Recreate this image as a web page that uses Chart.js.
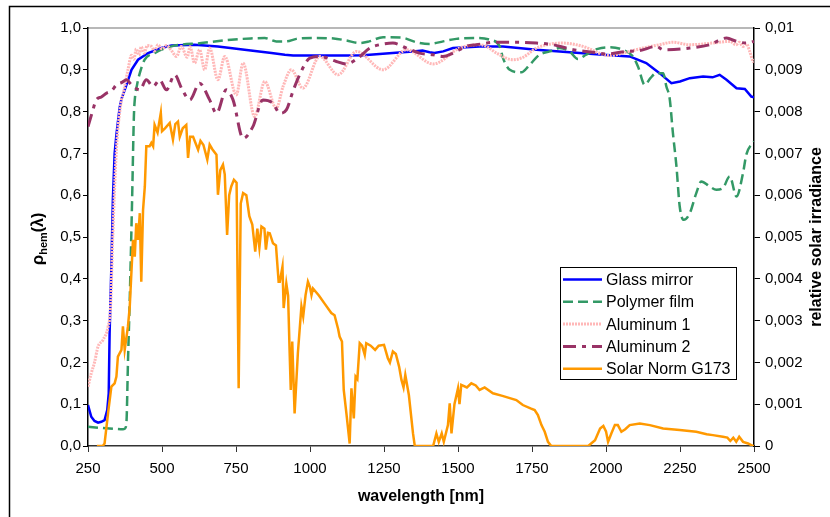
<!DOCTYPE html>
<html>
<head>
<meta charset="utf-8">
<script src="https://cdn.jsdelivr.net/npm/chart.js@4"></script>
<style>
  html, body { margin: 0; padding: 0; background: #fff; }
  canvas { display: block; }
</style>
</head>
<body>
<canvas id="chart" width="830" height="517"></canvas>
<script>
// --- Data (wavelength in nm) ---
const xTicks = [250, 500, 750, 1000, 1250, 1500, 1750, 2000, 2250, 2500];
const yTicks = [0, 0.1, 0.2, 0.3, 0.4, 0.5, 0.6, 0.7, 0.8, 0.9, 1.0];
const y2Ticks = [0, 0.001, 0.002, 0.003, 0.004, 0.005, 0.006, 0.007, 0.008, 0.009, 0.01];
const seriesNames = ['Glass mirror', 'Polymer film', 'Aluminum 1', 'Aluminum 2', 'Solar Norm G173'];

const glassNm = [250, 261, 272, 284, 295, 306, 315, 320, 323, 329, 334, 340, 346, 351, 357, 363, 380, 397, 419, 453, 498, 532, 610, 689, 779, 870, 915, 943, 1123, 1180, 1235, 1290, 1348, 1380, 1404, 1420, 1450, 1483, 1573, 1652, 1765, 1877, 1990, 2080, 2136, 2181, 2221, 2250, 2283, 2328, 2360, 2384, 2407, 2441, 2469, 2491, 2500];
const glassR = [0.098, 0.070, 0.060, 0.056, 0.058, 0.062, 0.086, 0.126, 0.270, 0.430, 0.589, 0.700, 0.745, 0.775, 0.810, 0.830, 0.864, 0.900, 0.924, 0.940, 0.952, 0.958, 0.960, 0.956, 0.948, 0.940, 0.936, 0.934, 0.934, 0.935, 0.938, 0.941, 0.944, 0.946, 0.942, 0.940, 0.944, 0.952, 0.956, 0.956, 0.948, 0.942, 0.936, 0.932, 0.916, 0.892, 0.868, 0.872, 0.880, 0.884, 0.882, 0.888, 0.876, 0.856, 0.854, 0.836, 0.834];

const polymerNm = [250, 300, 340, 368, 375, 380, 385, 391, 399, 405, 408, 416, 425, 441, 475, 532, 633, 734, 800, 847, 886, 920, 954, 1010, 1080, 1123, 1168, 1200, 1247, 1310, 1359, 1404, 1450, 1494, 1562, 1607, 1641, 1652, 1675, 1714, 1742, 1775, 1810, 1843, 1877, 1905, 1933, 1972, 2012, 2057, 2091, 2108, 2131, 2150, 2170, 2193, 2204, 2215, 2226, 2238, 2249, 2263, 2283, 2305, 2322, 2350, 2373, 2395, 2418, 2441, 2463, 2474, 2500];
const polymerR = [0.046, 0.043, 0.041, 0.040, 0.042, 0.058, 0.200, 0.350, 0.589, 0.788, 0.828, 0.865, 0.892, 0.924, 0.940, 0.956, 0.964, 0.972, 0.975, 0.976, 0.968, 0.968, 0.974, 0.976, 0.975, 0.970, 0.964, 0.968, 0.978, 0.977, 0.966, 0.962, 0.968, 0.974, 0.976, 0.972, 0.956, 0.928, 0.900, 0.894, 0.912, 0.936, 0.944, 0.952, 0.944, 0.926, 0.936, 0.950, 0.954, 0.948, 0.932, 0.908, 0.864, 0.880, 0.892, 0.892, 0.860, 0.832, 0.749, 0.669, 0.573, 0.541, 0.557, 0.605, 0.633, 0.621, 0.613, 0.617, 0.645, 0.597, 0.653, 0.697, 0.729];

const alu1Nm = [250, 261, 272, 284, 301, 318, 326, 334, 346, 363, 368, 385, 397, 405, 413, 422, 430, 440, 450, 464, 475, 486, 500, 515, 530, 549, 565, 585, 595, 610, 627, 644, 661, 689, 712, 751, 774, 813, 847, 886, 909, 937, 976, 1033, 1095, 1157, 1247, 1326, 1416, 1506, 1573, 1596, 1630, 1686, 1720, 1765, 1855, 1922, 2012, 2057, 2125, 2181, 2226, 2283, 2361, 2418, 2440, 2450, 2463, 2475, 2485, 2497, 2500];
const alu1R = [0.142, 0.174, 0.200, 0.238, 0.254, 0.286, 0.330, 0.509, 0.709, 0.828, 0.840, 0.900, 0.935, 0.925, 0.950, 0.935, 0.955, 0.940, 0.958, 0.956, 0.945, 0.960, 0.950, 0.958, 0.948, 0.932, 0.956, 0.930, 0.955, 0.916, 0.948, 0.900, 0.952, 0.876, 0.932, 0.840, 0.916, 0.788, 0.872, 0.808, 0.860, 0.900, 0.856, 0.932, 0.888, 0.944, 0.900, 0.948, 0.914, 0.952, 0.960, 0.956, 0.940, 0.924, 0.930, 0.952, 0.964, 0.956, 0.934, 0.940, 0.952, 0.960, 0.966, 0.960, 0.964, 0.968, 0.960, 0.966, 0.956, 0.962, 0.945, 0.920, 0.918];

const alu2Nm = [250, 265, 278, 295, 312, 330, 346, 365, 380, 397, 425, 447, 470, 492, 515, 543, 566, 594, 627, 661, 684, 717, 740, 774, 807, 841, 875, 898, 920, 943, 965, 999, 1033, 1089, 1123, 1162, 1202, 1235, 1280, 1326, 1370, 1416, 1449, 1483, 1528, 1562, 1630, 1697, 1765, 1821, 1889, 1956, 2001, 2069, 2114, 2170, 2193, 2283, 2350, 2407, 2441, 2474, 2500];
const alu2R = [0.764, 0.800, 0.828, 0.835, 0.844, 0.850, 0.864, 0.870, 0.876, 0.864, 0.852, 0.876, 0.860, 0.876, 0.852, 0.888, 0.856, 0.828, 0.868, 0.828, 0.796, 0.852, 0.828, 0.736, 0.764, 0.828, 0.820, 0.796, 0.804, 0.850, 0.888, 0.928, 0.932, 0.920, 0.914, 0.928, 0.952, 0.960, 0.964, 0.952, 0.940, 0.936, 0.932, 0.940, 0.956, 0.960, 0.966, 0.966, 0.964, 0.960, 0.948, 0.942, 0.938, 0.944, 0.946, 0.956, 0.948, 0.952, 0.960, 0.976, 0.968, 0.964, 0.968];

const solarNm = [280, 300, 306, 318, 329, 340, 346, 351, 363, 368, 374, 385, 391, 402, 408, 413, 419, 425, 430, 436, 442, 447, 458, 464, 470, 475, 485, 496, 500, 510, 526, 537, 545, 554, 560, 570, 582, 588, 595, 605, 622, 630, 640, 653, 661, 670, 684, 689, 697, 706, 712, 720, 727, 734, 743, 752, 759, 766, 774, 785, 795, 805, 815, 822, 829, 836, 846, 851, 858, 864, 875, 885, 894, 898, 907, 911, 920, 926, 931, 935, 940, 948, 959, 971, 977, 985, 993, 1000, 1005, 1010, 1030, 1050, 1072, 1083, 1095, 1100, 1108, 1114, 1123, 1134, 1140, 1148, 1154, 1160, 1168, 1176, 1185, 1190, 1205, 1220, 1232, 1250, 1263, 1270, 1280, 1290, 1301, 1309, 1316, 1322, 1334, 1348, 1354, 1416, 1427, 1435, 1445, 1452, 1466, 1472, 1478, 1488, 1500, 1505, 1511, 1530, 1545, 1560, 1573, 1590, 1618, 1650, 1697, 1719, 1745, 1759, 1770, 1782, 1793, 1804, 1815, 1940, 1963, 1980, 1991, 2000, 2007, 2018, 2030, 2040, 2052, 2065, 2080, 2114, 2148, 2193, 2249, 2305, 2340, 2361, 2395, 2410, 2420, 2430, 2440, 2450, 2463, 2480, 2497, 2500];
const solarE = [0, 0, 0.00006, 0.0008, 0.00142, 0.0015, 0.00166, 0.00214, 0.0023, 0.00286, 0.0023, 0.00286, 0.00333, 0.00493, 0.00453, 0.00533, 0.00493, 0.00557, 0.00393, 0.00565, 0.00621, 0.00717, 0.00717, 0.00725, 0.00717, 0.00768, 0.0075, 0.00797, 0.00753, 0.0076, 0.00773, 0.00733, 0.0077, 0.00776, 0.0074, 0.0076, 0.00768, 0.00689, 0.0074, 0.0074, 0.00709, 0.0073, 0.0072, 0.00685, 0.00721, 0.0071, 0.00697, 0.00601, 0.0066, 0.00673, 0.0065, 0.00505, 0.006, 0.00621, 0.00637, 0.0063, 0.00138, 0.0058, 0.00605, 0.006, 0.0055, 0.0053, 0.00465, 0.0052, 0.00475, 0.00525, 0.0052, 0.0047, 0.0051, 0.00509, 0.00485, 0.0048, 0.00393, 0.00393, 0.00429, 0.0033, 0.00389, 0.0036, 0.0023, 0.00134, 0.0025, 0.00078, 0.00222, 0.00334, 0.0031, 0.00361, 0.00393, 0.0038, 0.00361, 0.00377, 0.0036, 0.0034, 0.00318, 0.00313, 0.0028, 0.00262, 0.0025, 0.00134, 0.00078, 0.00006, 0.00138, 0.00066, 0.00166, 0.0016, 0.00246, 0.0024, 0.00218, 0.00246, 0.0024, 0.0023, 0.0024, 0.00242, 0.0021, 0.002, 0.00226, 0.0022, 0.0019, 0.00158, 0.0014, 0.0017, 0.00122, 0.0003, 0, 0, 0.0003, 0.0001, 0.0003, 0.0001, 0.0005, 0.00102, 0.0003, 0.001, 0.00138, 0.001, 0.00146, 0.0014, 0.0015, 0.00145, 0.00134, 0.0014, 0.00126, 0.0012, 0.0011, 0.00098, 0.0009, 0.00086, 0.00074, 0.0005, 0.00034, 0.0001, 0, 0, 0.00014, 0.00042, 0.00048, 0.00035, 0.0001, 0.0003, 0.0005, 0.0005, 0.00034, 0.0004, 0.0005, 0.00054, 0.0005, 0.00042, 0.00038, 0.00034, 0.00028, 0.00026, 0.00022, 0.0002, 0.00012, 0.0002, 0.0001, 0.00022, 0.0001, 0.00006, 0, 0];

const FONT = '"Liberation Sans", Arial, sans-serif';
const pts = (xs, ys) => xs.map((x, i) => ({ x: x, y: ys[i] }));
const comma = v => String(parseFloat(v.toFixed(3))).replace('.', ',');

const datasets = [
    { label: seriesNames[0], data: pts(glassNm, glassR), borderColor: '#0000FF', borderWidth: 2.5, tension: 0, yAxisID: 'y', order: 5 },
    { label: seriesNames[1], data: pts(polymerNm, polymerR), borderColor: '#339966', borderWidth: 2.5, borderDash: [10, 5], cubicInterpolationMode: 'monotone', yAxisID: 'y', order: 4 },
    { label: seriesNames[2], data: pts(alu1Nm, alu1R), borderColor: '#FFB8B8', borderWidth: 3, borderDash: [2, 1], cubicInterpolationMode: 'monotone', yAxisID: 'y', order: 3 },
    { label: seriesNames[3], data: pts(alu2Nm, alu2R), borderColor: '#993366', borderWidth: 3, borderDash: [13, 6, 4, 6], cubicInterpolationMode: 'monotone', yAxisID: 'y', order: 2 },
    { label: seriesNames[4], data: pts(solarNm, solarE), borderColor: '#FF9900', borderWidth: 2.5, tension: 0, yAxisID: 'y2', order: 1 }
];
datasets.forEach(d => { d.pointRadius = 0; d.fill = false; });

// frame, axis titles and the boxed legend
const decor = {
    id: 'decor',
    beforeDraw(chart) {
        const ctx = chart.ctx, a = chart.chartArea;
        ctx.save();
        ctx.fillStyle = '#fff';
        ctx.fillRect(0, 0, chart.width, chart.height);
        ctx.strokeStyle = '#000';
        ctx.lineWidth = 1.5;
        ctx.beginPath();
        ctx.moveTo(9.5, chart.height);
        ctx.lineTo(9.5, 6.5);
        ctx.lineTo(chart.width, 6.5);
        ctx.stroke();
        ctx.strokeStyle = '#a0a0a0';
        ctx.beginPath();
        ctx.moveTo(a.left, a.top);
        ctx.lineTo(a.right, a.top);
        ctx.stroke();
        ctx.restore();
    },
    afterDraw(chart) {
        const ctx = chart.ctx, a = chart.chartArea;
        const midY = (a.top + a.bottom) / 2;
        ctx.save();
        ctx.fillStyle = '#000';
        ctx.textBaseline = 'alphabetic';

        ctx.font = 'bold 16px ' + FONT;
        ctx.textAlign = 'center';
        ctx.fillText('wavelength [nm]', (a.left + a.right) / 2, 501);

        ctx.save();
        ctx.translate(821, midY);
        ctx.rotate(-Math.PI / 2);
        ctx.fillText('relative solar irradiance', 0, 0);
        ctx.restore();

        // left title with subscript
        const parts = [['ρ', 'bold 17px ', 0], ['hem', 'bold 11px ', 4], ['(λ)', 'bold 16px ', 0]];
        let total = 0;
        parts.forEach(p => { ctx.font = p[1] + FONT; total += ctx.measureText(p[0]).width; });
        ctx.save();
        ctx.translate(43, midY + 2);
        ctx.rotate(-Math.PI / 2);
        ctx.textAlign = 'left';
        let px = -total / 2;
        parts.forEach(p => {
            ctx.font = p[1] + FONT;
            ctx.fillText(p[0], px, p[2]);
            px += ctx.measureText(p[0]).width;
        });
        ctx.restore();

        // legend
        const lx = 560.5, ly = 267.5, lw = 176, lh = 112;
        ctx.fillStyle = '#fff';
        ctx.fillRect(lx, ly, lw, lh);
        ctx.strokeStyle = '#000';
        ctx.lineWidth = 1;
        ctx.strokeRect(lx, ly, lw, lh);
        ctx.font = '16px ' + FONT;
        ctx.textAlign = 'left';
        ctx.textBaseline = 'middle';
        chart.data.datasets.forEach((d, i) => {
            const ry = 279.5 + i * 22.3;
            ctx.strokeStyle = d.borderColor;
            ctx.lineWidth = d.borderWidth;
            ctx.setLineDash(d.borderDash || []);
            ctx.beginPath();
            ctx.moveTo(563, ry);
            ctx.lineTo(602, ry);
            ctx.stroke();
            ctx.setLineDash([]);
            ctx.fillStyle = '#000';
            ctx.fillText(d.label, 606, ry + 1);
        });
        ctx.restore();
    }
};

const tickFont = { family: FONT, size: 15 };

new Chart(document.getElementById('chart'), {
    type: 'line',
    data: { datasets: datasets },
    plugins: [decor],
    options: {
        responsive: false,
        animation: false,
        devicePixelRatio: 1,
        layout: { padding: { left: 0, right: 0, top: 28, bottom: 0 } },
        plugins: { legend: { display: false }, tooltip: { enabled: false } },
        scales: {
            x: {
                type: 'linear', min: 250, max: 2500,
                afterBuildTicks: s => { s.ticks = xTicks.map(v => ({ value: v })); },
                afterFit: s => { s.height = 71; },
                grid: { drawOnChartArea: false, drawTicks: true, tickLength: 6, color: '#333' },
                border: { color: '#333', width: 1.5 },
                ticks: { font: tickFont, color: '#000', padding: 8, maxRotation: 0, callback: v => String(v) }
            },
            y: {
                position: 'left', min: 0, max: 1,
                afterBuildTicks: s => { s.ticks = yTicks.map(v => ({ value: v })); },
                afterFit: s => { s.width = 88; },
                grid: { drawOnChartArea: false, drawTicks: true, tickLength: 5, color: '#000' },
                border: { color: '#000', width: 1.5 },
                ticks: { font: tickFont, color: '#000', padding: 2, callback: v => v.toFixed(1).replace('.', ',') }
            },
            y2: {
                position: 'right', min: 0, max: 0.01,
                afterBuildTicks: s => { s.ticks = y2Ticks.map(v => ({ value: v })); },
                afterFit: s => { s.width = 76; },
                grid: { drawOnChartArea: false, drawTicks: true, tickLength: 6, color: '#000' },
                border: { color: '#000', width: 1.5 },
                ticks: { font: tickFont, color: '#000', padding: 5, callback: v => comma(v) }
            }
        }
    }
});
</script>
</body>
</html>
